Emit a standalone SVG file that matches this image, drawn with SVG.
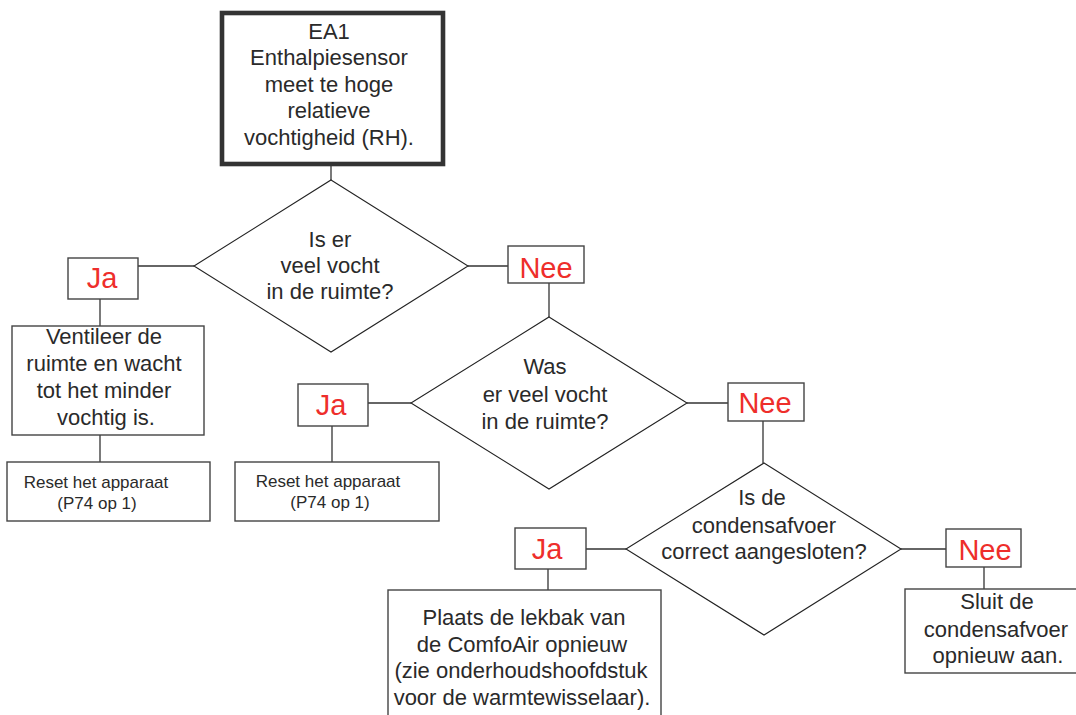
<svg xmlns="http://www.w3.org/2000/svg" width="1076" height="715" viewBox="0 0 1076 715">
<style>
.bg{fill:#fff}
.box{fill:#fff;stroke:#444;stroke-width:1.4}
.start{fill:#fff;stroke:#333;stroke-width:4.6}
.dia{fill:#fff;stroke:#222;stroke-width:1.1}
.ln{stroke:#333;stroke-width:1.3;fill:none}
.t{font-family:"Liberation Sans",Arial,Helvetica,sans-serif;font-size:22px;fill:#2a2a2a;text-anchor:middle}
.s{font-size:17px}
.r{font-family:"Liberation Sans",Arial,Helvetica,sans-serif;font-size:29px;fill:#ee2e2b;text-anchor:middle}
</style>
<rect class="bg" x="0" y="0" width="1076" height="715"/>
<g id="connectors">
<line class="ln" x1="331" y1="166" x2="331" y2="180"/>
<line class="ln" x1="138" y1="266" x2="194" y2="266"/>
<line class="ln" x1="468" y1="266" x2="508" y2="266"/>
<line class="ln" x1="100" y1="299" x2="100" y2="326"/>
<line class="ln" x1="100" y1="435" x2="100" y2="462"/>
<line class="ln" x1="549" y1="283" x2="549" y2="317"/>
<line class="ln" x1="368" y1="403" x2="411" y2="403"/>
<line class="ln" x1="687" y1="403" x2="728" y2="403"/>
<line class="ln" x1="332" y1="426" x2="332" y2="462"/>
<line class="ln" x1="763" y1="421" x2="763" y2="463"/>
<line class="ln" x1="586" y1="549" x2="626" y2="549"/>
<line class="ln" x1="901" y1="549" x2="946" y2="549"/>
<line class="ln" x1="548" y1="569" x2="548" y2="590"/>
<line class="ln" x1="984" y1="567" x2="984" y2="589"/>
</g>
<g id="start">
<rect class="start" x="222" y="13" width="221" height="151"/>
<text class="t" x="329" y="39">EA1</text>
<text class="t" x="329" y="65">Enthalpiesensor</text>
<text class="t" x="329" y="92">meet te hoge</text>
<text class="t" x="329" y="118">relatieve</text>
<text class="t" x="329" y="145">vochtigheid (RH).</text>
</g>
<g id="q1">
<polygon class="dia" points="331,180 468,266 331,352 194,266"/>
<text class="t" x="330" y="247">Is er</text>
<text class="t" x="330" y="273">veel vocht</text>
<text class="t" x="330" y="299">in de ruimte?</text>
</g>
<g id="ja1">
<rect class="box" x="68" y="258" width="70" height="41"/>
<text class="r" x="102" y="288">Ja</text>
</g>
<g id="nee1">
<rect class="box" x="508" y="246" width="76" height="37"/>
<text class="r" x="546" y="278">Nee</text>
</g>
<g id="ventileer">
<rect class="box" x="12" y="326" width="192" height="109"/>
<text class="t" x="104" y="344">Ventileer de</text>
<text class="t" x="104" y="371">ruimte en wacht</text>
<text class="t" x="104" y="398">tot het minder</text>
<text class="t" x="106" y="425">vochtig is.</text>
</g>
<g id="reset1">
<rect class="box" x="7" y="462" width="203" height="59"/>
<text class="t s" x="96" y="488">Reset het apparaat</text>
<text class="t s" x="97" y="509">(P74 op 1)</text>
</g>
<g id="q2">
<polygon class="dia" points="549,317 687,403 549,489 411,403"/>
<text class="t" x="545" y="374">Was</text>
<text class="t" x="545" y="402">er veel vocht</text>
<text class="t" x="545" y="429">in de ruimte?</text>
</g>
<g id="ja2">
<rect class="box" x="298" y="384" width="70" height="42"/>
<text class="r" x="331" y="415">Ja</text>
</g>
<g id="nee2">
<rect class="box" x="728" y="383" width="76" height="38"/>
<text class="r" x="765" y="413">Nee</text>
</g>
<g id="reset2">
<rect class="box" x="235" y="462" width="204" height="59"/>
<text class="t s" x="328" y="487">Reset het apparaat</text>
<text class="t s" x="330" y="508">(P74 op 1)</text>
</g>
<g id="q3">
<polygon class="dia" points="764,463 901,549 764,635 626,549"/>
<text class="t" x="762" y="505">Is de</text>
<text class="t" x="764" y="533">condensafvoer</text>
<text class="t" x="764" y="559">correct aangesloten?</text>
</g>
<g id="ja3">
<rect class="box" x="515" y="528" width="71" height="41"/>
<text class="r" x="547" y="559">Ja</text>
</g>
<g id="nee3">
<rect class="box" x="946" y="529" width="75" height="38"/>
<text class="r" x="985" y="560">Nee</text>
</g>
<g id="plaats">
<rect class="box" x="388" y="590" width="273" height="140"/>
<text class="t" x="524" y="625">Plaats de lekbak van</text>
<text class="t" x="522" y="652">de ComfoAir opnieuw</text>
<text class="t" x="521" y="678">(zie onderhoudshoofdstuk</text>
<text class="t" x="522" y="705">voor de warmtewisselaar).</text>
</g>
<g id="sluit">
<rect class="box" x="905" y="589" width="180" height="84"/>
<text class="t" x="997" y="609">Sluit de</text>
<text class="t" x="996" y="637">condensafvoer</text>
<text class="t" x="998" y="663">opnieuw aan.</text>
</g>
</svg>
